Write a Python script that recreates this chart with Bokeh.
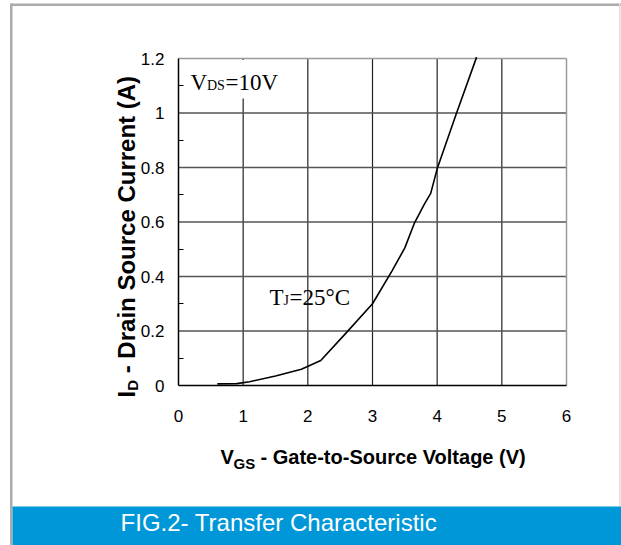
import math
from bokeh.plotting import figure
from bokeh.models import Range1d, FixedTicker
from bokeh.core.properties import value
from bokeh.embed import file_html
from bokeh.resources import INLINE

# ---- data ----
vgs = [0.6, 0.9, 1.1, 1.5, 1.9, 2.2, 2.6, 3.0, 3.3, 3.5, 3.65, 3.8, 3.9, 4.0, 4.3, 4.61]
id_a = [0.006, 0.007, 0.014, 0.035, 0.06, 0.092, 0.195, 0.3, 0.42, 0.505, 0.597, 0.665, 0.705, 0.795, 1.0, 1.205]
x_ticks = [0, 1, 2, 3, 4, 5, 6]
y_ticks = [0, 0.2, 0.4, 0.6, 0.8, 1.0, 1.2]
y_tick_labels = ["0", "0.2", "0.4", "0.6", "0.8", "1", "1.2"]
y_minor = [0.1, 0.3, 0.5, 0.7, 0.9, 1.1]

W, H = 621, 545
# pixel position of the data rectangle (0..6, 0..1.2) inside the canvas
FL, FR, FT, FB = 178, 566, 58, 385
XS = (FR - FL) / (x_ticks[-1] - x_ticks[0])
YS = (FB - FT) / (y_ticks[-1] - y_ticks[0])
def dx(px):
    return (px - FL) / XS
def dy(py):
    return (FB - py) / YS

p = figure(width=W, height=H, output_backend="svg", toolbar_location=None,
           title=None,
           x_range=Range1d(dx(0), dx(W)), y_range=Range1d(dy(H), dy(0)),
           min_border=0)
p.background_fill_color = "white"
p.border_fill_color = "white"
p.outline_line_color = None
p.grid.visible = False

# ---- page frame and banner ----
grey = "#ababab"
p.quad(left=[dx(10), dx(9.5), dx(618.5)], right=[dx(621), dx(12), dx(620)],
       top=[dy(3), dy(3), dy(3)], bottom=[dy(5.5), dy(545), dy(506)],
       fill_color=[grey, grey, "#dddddd"], line_color=None)
p.quad(left=[dx(12)], right=[dx(621)], top=[dy(506)], bottom=[dy(545)],
       fill_color="#0097d8", line_color=None)

# ---- grid ----
p.segment(x0=x_ticks[1:-1], y0=[y_ticks[0]] * 5, x1=x_ticks[1:-1], y1=[y_ticks[-1]] * 5,
          line_color="#222222", line_width=1.2)
p.segment(x0=[x_ticks[0]] * 5, y0=y_ticks[1:-1], x1=[x_ticks[-1]] * 5, y1=y_ticks[1:-1],
          line_color="#555555", line_width=1.3)
# top / right frame edges (grey)
p.segment(x0=[x_ticks[0], x_ticks[-1]], y0=[y_ticks[-1], y_ticks[0]],
          x1=[x_ticks[-1], x_ticks[-1]], y1=[y_ticks[-1], y_ticks[-1]],
          line_color="#9a9a9a", line_width=1.5)

# ---- curve ----
p.line(vgs, id_a, line_color="black", line_width=1.6)

# white patch behind the VDS text
p.quad(left=[dx(179.5)], right=[dx(292)], top=[dy(59.5)], bottom=[dy(98)],
       fill_color="white", line_color=None)

# ---- axes (inside the canvas at the data origin) ----
p.xaxis.fixed_location = 0
p.yaxis.fixed_location = 0
p.xaxis.bounds = (x_ticks[0], x_ticks[-1])
p.yaxis.bounds = (y_ticks[0], y_ticks[-1])
p.xaxis.ticker = FixedTicker(ticks=x_ticks)
p.yaxis.ticker = FixedTicker(ticks=y_ticks, minor_ticks=y_minor)
p.yaxis.major_label_overrides = {t: l for t, l in zip(y_ticks, y_tick_labels)}
for ax in (p.xaxis[0], p.yaxis[0]):
    ax.axis_line_color = "black"
    ax.axis_line_width = 1.5
    ax.major_tick_line_color = None
    ax.major_tick_in = 0
    ax.major_tick_out = 0
    ax.major_label_text_font = "Liberation Sans"
    ax.major_label_text_font_size = "17px"
    ax.major_label_text_color = "black"
p.xaxis.minor_tick_line_color = None
p.yaxis.minor_tick_in = 5
p.yaxis.minor_tick_out = 0
p.yaxis.minor_tick_line_color = "black"
p.yaxis.major_label_standoff = 14
p.xaxis.major_label_standoff = 24

# ---- texts (anchor = vertical centre of the glyphs) ----
def lab(txt, px, py, size, font="Liberation Sans", style="normal", angle=0.0,
        align="left", color="black"):
    p.text(x=[dx(px)], y=[dy(py)], text=[txt], text_font=value(font),
           text_font_size=f"{size}px", text_font_style=style,
           text_color=color, text_align=align, text_baseline="middle",
           angle=angle)

def base(b, size):
    # convert a baseline position to the glyph centre
    return b - 0.33 * size

serif = "Liberation Serif"
lab("V", 190, base(90, 23), 23, serif)
lab("DS", 206.5, base(90, 14), 14, serif)
lab("=10V", 225, base(90, 23), 23, serif)
lab("T", 269, base(305, 23), 23, serif)
lab("J", 283, base(305, 14), 14, serif)
lab("=25°C", 289, base(305, 23), 23, serif)

# x axis title
lab("V", 220, base(463, 20), 20, style="bold")
lab("GS", 233, base(468, 15), 15, style="bold")
lab("- Gate-to-Source Voltage (V)", 260, base(463, 20), 20, style="bold")

# y axis title (rotated, reads bottom to top)
rot = math.pi / 2
lab("I", 126, 397, 24, style="bold", angle=rot)
lab("D", 132, 390.3, 15, style="bold", angle=rot)
lab("- Drain Source Current (A)", 126, 372.8, 24, style="bold", angle=rot)

# banner text
lab("FIG.2-  Transfer  Characteristic", 285, base(530, 24), 24,
    align="center", color="white")

open("out.html", "w").write(file_html(p, INLINE))
